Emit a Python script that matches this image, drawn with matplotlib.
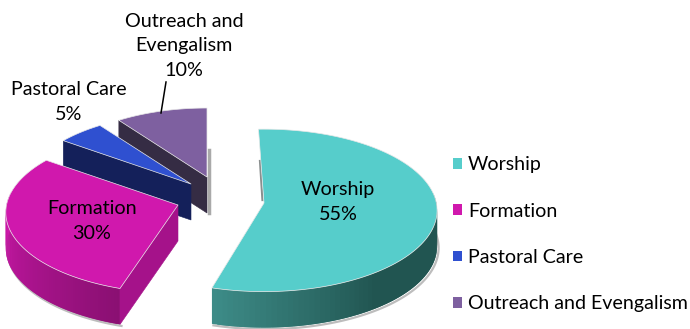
import numpy as np
import matplotlib
matplotlib.use('Agg')
import matplotlib.pyplot as plt
from matplotlib.patches import Patch, Polygon

plt.rcParams['font.family'] = ['Lato', 'DejaVu Sans']

# data
categories = ['Worship', 'Formation', 'Pastoral Care', 'Outreach and Evengalism']
values = [55, 30, 5, 10]

# look of each slice
top_colors = ['#56cdcb', '#d018ad', '#2f50d0', '#7e60a0']
rim_light = ['#3f8f8b', '#a8128c', '#14205a', '#352c44']
rim_dark = ['#215551', '#c0169f', '#14205a', '#352c44']
wall_colors = [None, '#a5128a', '#14205a', '#352c44']
apex = [(264, 203), (178, 205), (191, 184), (207, 177)]
scale = [0.985, 0.98, 0.95, 0.92]
turn = [np.radians(-2), 0, 0, 0]  # the reference slice sits slightly rotated

a, b, k = 175, 81.8, 0.0909  # ellipse radii, perspective
depth = 36


def project(theta, r, cx, cy, s):
    # theta clockwise from 12 o'clock, gives pixel position on the tilted disc
    u = r * np.sin(theta)
    v = r * np.cos(theta)
    f = 1 / (1 + k * v)
    return cx + s * a * u * f, cy - s * b * v * f


fig = plt.figure(figsize=(6.9, 3.29), dpi=100)
ax = fig.add_axes([0, 0, 1, 1])
ax.set_xlim(0, 690)
ax.set_ylim(329, 0)
ax.axis('off')

edges = np.cumsum([0] + values) / sum(values) * 2 * np.pi

# back slices first, the big one last
for i in [3, 2, 1, 0]:
    t0, t1 = edges[i] + turn[i], edges[i + 1] + turn[i]
    cx, cy = apex[i]
    s = scale[i]
    t = np.linspace(t0, t1, 120)
    xs, ys = project(t, 1, cx, cy, s)
    base = i * -10 + 40

    # soft grey shadow under the rim
    front = np.cos(t) < 0.15
    if front.sum() > 1:
        ax.plot(xs[front] + 1.5, ys[front] + depth + 1.5, color='#bdbdbd', lw=1.6, zorder=base)

    # outer rim, overlapping strips so that it can shade along the arc
    c0 = np.array(matplotlib.colors.to_rgb(rim_light[i]))
    c1 = np.array(matplotlib.colors.to_rgb(rim_dark[i]))
    order = range(len(t) - 3, -1, -1) if i == 0 else range(len(t) - 2)
    for j in order:
        if np.cos(t[j]) > 0.15:
            continue
        if i == 0:
            w = min(1, (t1 - t[j]) / (t1 - t0) * 3.6)
            col = c0 * (1 - w) + c1 * w
        else:
            w = (t[j] - t0) / (t1 - t0)
            col = c1 * (0.72 + 0.5 * w) if i == 1 else c1
            col = np.clip(col, 0, 1)
        quad = [(xs[j], ys[j]), (xs[j + 2], ys[j + 2]),
                (xs[j + 2], ys[j + 2] + depth), (xs[j], ys[j] + depth)]
        ax.add_patch(Polygon(quad, closed=True, fc=col, ec='none', lw=0, zorder=base + 1))

    # flat cut face turned to the viewer
    if wall_colors[i] is not None:
        ex, ey = project(t0, 1, cx, cy, s)
        wall = [(cx, cy), (ex, ey), (ex, ey + depth), (cx, cy + depth)]
        ax.add_patch(Polygon(wall, closed=True, fc=wall_colors[i], ec=wall_colors[i], lw=0.4,
                             zorder=base + 2))

    # grey sliver on the far cut
    if i == 3:
        ax.plot([cx + 1.5, cx + 1.5], [cy - 27, cy + depth], color='#a9a9a9', lw=2.5, zorder=base - 1)
    if i == 0:
        ax.plot([cx - 4, cx - 1.5], [cy - 42, cy - 3], color='#8a8f8f', lw=1.6, zorder=base - 1)

    top = np.column_stack([np.r_[cx, xs], np.r_[cy, ys]])
    ax.add_patch(Polygon(top, closed=True, fc=top_colors[i], ec='#e8e8e8', lw=0.5,
                         joinstyle='round', zorder=base + 3))

# labels
txt = dict(ha='center', va='center', color='black', zorder=60, linespacing=1.55, fontsize=14.2)
ax.text(338, 202, f'{categories[0]}\n{values[0]}%', **txt)
ax.text(92, 221, f'{categories[1]}\n{values[1]}%', **txt)
ax.text(69, 102, f'{categories[2]}\n{values[2]}%', **txt)
ax.text(184, 46, 'Outreach and\nEvengalism\n' + f'{values[3]}%', **txt)
ax.plot([166, 161], [82, 113], color='black', lw=1.1, zorder=60)

# legend
handles = [Patch(fc=c, ec='none') for c in top_colors]
ax.legend(handles, categories, loc='upper left', bbox_to_anchor=(0.6565, 0.525), frameon=False,
          prop={'size': 14.1}, handlelength=0.46, handleheight=0.46, handletextpad=0.3,
          labelspacing=1.5, borderpad=0, borderaxespad=0)

fig.savefig('out.png', dpi=100)
